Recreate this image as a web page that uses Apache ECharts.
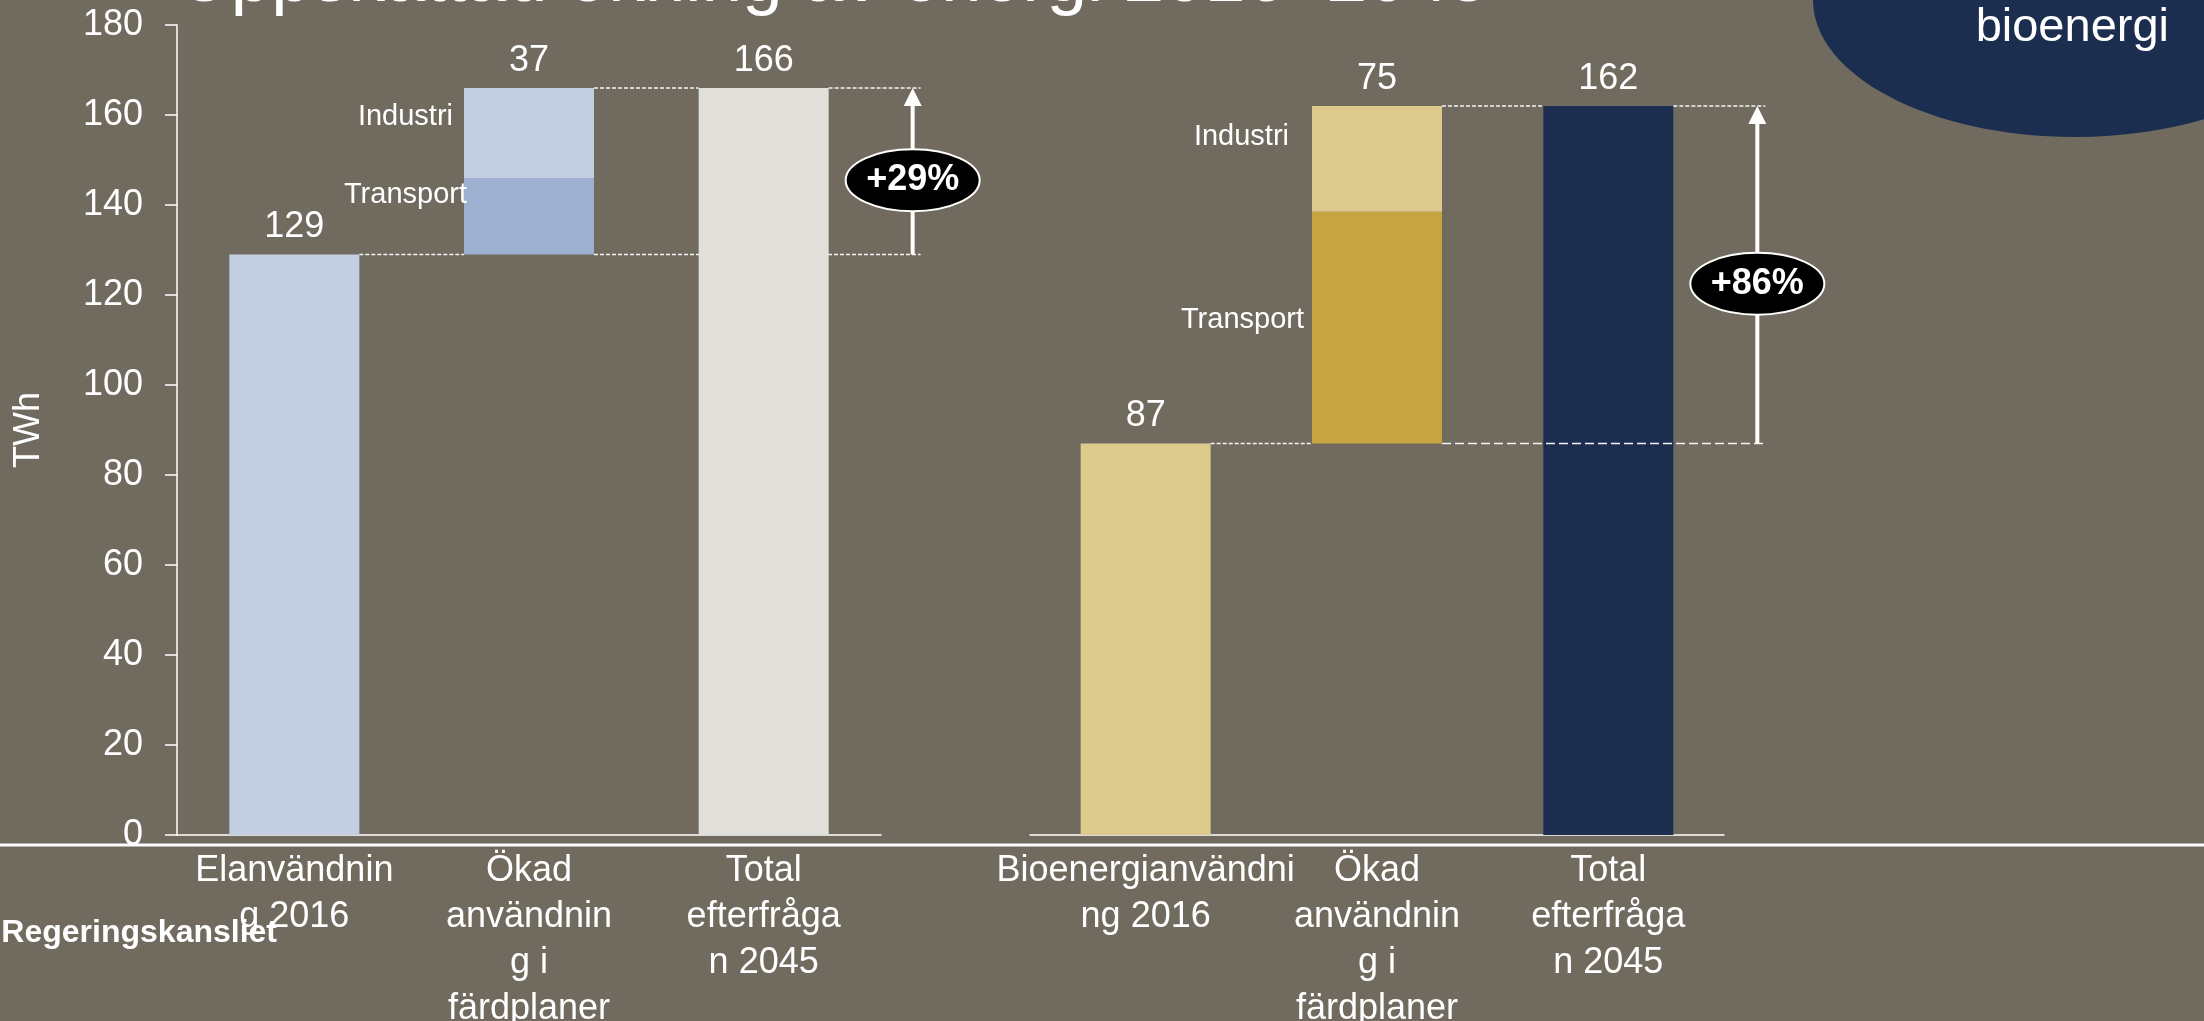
<!DOCTYPE html>
<html>
<head>
<meta charset="utf-8">
<title>Uppskattad ökning av energi 2016–2045</title>
<script src="https://cdn.jsdelivr.net/npm/echarts@6/dist/echarts.min.js"></script>
<style>
  html, body { margin: 0; padding: 0; background: #716b5f; }
  #chart { width: 2204px; height: 1021px; }
</style>
</head>
<body>
<div id="chart"></div>
<script>
// categories, wrapped the same way as in the slide
const elCategories = ['Elanvändnin\ng 2016', 'Ökad\nanvändnin\ng i\nfärdplaner', 'Total\nefterfråga\nn 2045'];
const bioCategories = ['Bioenergianvändni\nng 2016', 'Ökad\nanvändnin\ng i\nfärdplaner', 'Total\nefterfråga\nn 2045'];

// TWh values
const el2016 = 129;
const elTransport = 17;
const elIndustri = 20;
const el2045 = 166;
const elChange = '+29%';

const bio2016 = 87;
const bioTransport = 51.5;
const bioIndustri = 23.5;
const bio2045 = 162;
const bioChange = '+86%';

const yMin = 0;
const yMax = 180;
const yStep = 20;

const FONT = '"Liberation Sans", Arial, sans-serif';
const BAR_WIDTH = 130;
const WHITE = '#ffffff';

const chart = echarts.init(document.getElementById('chart'), null, { renderer: 'canvas' });

function barSeries(gridIdx, name, data, color, label) {
  return {
    type: 'bar',
    name,
    xAxisIndex: gridIdx,
    yAxisIndex: gridIdx,
    stack: 'g' + gridIdx,
    barWidth: BAR_WIDTH,
    data,
    itemStyle: { color },
    emphasis: { disabled: true },
    label: label || { show: false }
  };
}

const valueLabel = {
  show: true,
  position: 'top',
  distance: 9,
  color: WHITE,
  fontSize: 36,
  fontFamily: FONT
};

function nameLabel(text, distance, dy) {
  return {
    show: true,
    position: 'left',
    distance,
    offset: [0, dy],
    formatter: text,
    color: WHITE,
    fontSize: 29,
    fontFamily: FONT
  };
}

// dashed guides, arrow, +xx% bubble and the increase value
function annotationSeries(gridIdx, start, end, change, onTop) {
  return {
    type: 'custom',
    xAxisIndex: gridIdx,
    yAxisIndex: gridIdx,
    z: onTop ? 5 : 1,
    silent: true,
    clip: false,
    data: [[start, end]],
    renderItem: (params, api) => {
      const s = api.value(0);
      const e = api.value(1);
      const half = BAR_WIDTH / 2;
      const p0 = api.coord([0, s]);
      const p1s = api.coord([1, s]);
      const p1e = api.coord([1, e]);
      const p2e = api.coord([2, e]);
      const arrowX = p2e[0] + 149;
      const endX = arrowX + 8;
      const yS = p1s[1];
      const yE = p1e[1];
      const fine = { stroke: '#f4f4f4', lineWidth: 1.5, lineDash: [4, 2] };
      const wide = { stroke: '#f4f4f4', lineWidth: 1.5, lineDash: onTop ? [9, 4] : [4, 2] };
      return {
        type: 'group',
        children: [
          { type: 'line', shape: { x1: p0[0] + half, y1: yS, x2: p1s[0] - half, y2: yS }, style: fine },
          { type: 'line', shape: { x1: p1s[0] + half, y1: yS, x2: endX, y2: yS }, style: wide },
          { type: 'line', shape: { x1: p1e[0] + half, y1: yE, x2: p2e[0] - half, y2: yE }, style: fine },
          { type: 'line', shape: { x1: p2e[0] + half, y1: yE, x2: endX, y2: yE }, style: fine },
          { type: 'line', shape: { x1: arrowX, y1: yS, x2: arrowX, y2: yE + 15 }, style: { stroke: WHITE, lineWidth: 4 } },
          {
            type: 'polygon',
            shape: { points: [[arrowX - 9, yE + 18], [arrowX + 9, yE + 18], [arrowX, yE]] },
            style: { fill: WHITE }
          },
          {
            type: 'ellipse',
            shape: { cx: arrowX, cy: (yS + yE) / 2 + 9, rx: 67, ry: 31 },
            style: { fill: '#000000', stroke: WHITE, lineWidth: 2 }
          },
          {
            type: 'text',
            x: arrowX,
            y: (yS + yE) / 2 + 9,
            style: {
              text: change,
              fill: WHITE,
              font: 'bold 36px ' + FONT,
              textAlign: 'center',
              textVerticalAlign: 'middle'
            }
          },
          {
            type: 'text',
            x: p1e[0],
            y: yE - 9,
            style: {
              text: String(Math.round(e - s)),
              fill: WHITE,
              font: '36px ' + FONT,
              textAlign: 'center',
              textVerticalAlign: 'bottom'
            }
          }
        ]
      };
    }
  };
}

const axisLabelX = {
  interval: 0,
  hideOverlap: false,
  color: WHITE,
  fontSize: 36,
  lineHeight: 46,
  fontFamily: FONT,
  margin: 13
};

const option = {
  backgroundColor: '#716b5f',
  animation: false,
  textStyle: { fontFamily: FONT },
  grid: [
    { left: 177, top: 25, width: 704, height: 810, outerBoundsMode: 'none', containLabel: false },
    { left: 1030, top: 25, width: 694, height: 810, outerBoundsMode: 'none', containLabel: false }
  ],
  xAxis: [
    {
      type: 'category',
      gridIndex: 0,
      data: elCategories,
      axisLine: { lineStyle: { color: WHITE, width: 1.5 } },
      axisTick: { show: false },
      axisLabel: axisLabelX
    },
    {
      type: 'category',
      gridIndex: 1,
      data: bioCategories,
      axisLine: { lineStyle: { color: WHITE, width: 1.5 } },
      axisTick: { show: false },
      axisLabel: axisLabelX
    }
  ],
  yAxis: [
    {
      type: 'value',
      gridIndex: 0,
      min: yMin,
      max: yMax,
      interval: yStep,
      name: 'TWh',
      nameLocation: 'middle',
      nameGap: 130,
      nameTextStyle: { color: WHITE, fontSize: 36, fontFamily: FONT },
      axisLine: { show: true, lineStyle: { color: WHITE, width: 1.5 } },
      axisTick: { show: true, length: 12, lineStyle: { color: WHITE, width: 1.5 } },
      axisLabel: { color: WHITE, fontSize: 36, fontFamily: FONT, margin: 34 },
      splitLine: { show: false }
    },
    {
      type: 'value',
      gridIndex: 1,
      min: yMin,
      max: yMax,
      interval: yStep,
      show: false,
      splitLine: { show: false }
    }
  ],
  series: [
    barSeries(0, 'Elanvändning 2016', [el2016, '-', '-'], '#c3cee0', valueLabel),
    barSeries(0, 'bas', ['-', el2016, '-'], 'transparent'),
    barSeries(0, 'Transport', ['-', elTransport, '-'], '#9db0cf', nameLabel('Transport', -3, -21)),
    barSeries(0, 'Industri', ['-', elIndustri, '-'], '#c3cee0', nameLabel('Industri', 11, -16)),
    barSeries(0, 'Total efterfrågan 2045', ['-', '-', el2045], '#e0dfda', valueLabel),
    annotationSeries(0, el2016, el2045, elChange, false),

    barSeries(1, 'Bioenergianvändning 2016', [bio2016, '-', '-'], '#ddca8d', valueLabel),
    barSeries(1, 'bas', ['-', bio2016, '-'], 'transparent'),
    barSeries(1, 'Transport', ['-', bioTransport, '-'], '#c6a441', nameLabel('Transport', 8, -8)),
    barSeries(1, 'Industri', ['-', bioIndustri, '-'], '#ddca8d', nameLabel('Industri', 23, -22)),
    barSeries(1, 'Total efterfrågan 2045', ['-', '-', bio2045], '#1b2e4f', valueLabel),
    annotationSeries(1, bio2016, bio2045, bioChange, true)
  ],
  graphic: [
    {
      type: 'text',
      x: 178,
      y: -19,
      z: 10,
      style: {
        text: 'Uppskattad ökning av energi 2016–2045',
        fill: WHITE,
        font: '73px ' + FONT,
        textAlign: 'left',
        textVerticalAlign: 'middle'
      }
    },
    {
      type: 'ellipse',
      z: 10,
      shape: { cx: 2075, cy: 0, rx: 262, ry: 137 },
      style: { fill: '#1b2e4f' }
    },
    {
      type: 'text',
      x: 2169,
      y: 28,
      z: 11,
      style: {
        text: 'bioenergi',
        fill: WHITE,
        font: '47px ' + FONT,
        textAlign: 'right',
        textVerticalAlign: 'middle'
      }
    },
    {
      type: 'line',
      z: 20,
      shape: { x1: 0, y1: 845, x2: 2204, y2: 845 },
      style: { stroke: WHITE, lineWidth: 3 }
    },
    {
      type: 'text',
      x: 277,
      y: 933,
      z: 20,
      style: {
        text: 'Regeringskansliet',
        fill: WHITE,
        font: 'bold 32px ' + FONT,
        textAlign: 'right',
        textVerticalAlign: 'middle'
      }
    }
  ]
};

chart.setOption(option);
</script>
</body>
</html>
